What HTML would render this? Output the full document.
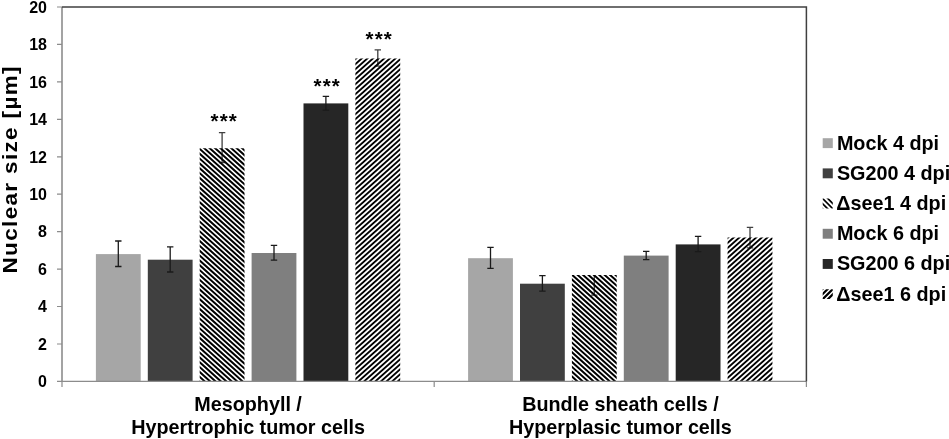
<!DOCTYPE html>
<html><head><meta charset="utf-8"><title>Nuclear size</title>
<style>
html,body{margin:0;padding:0;background:#fff;}
svg{display:block;}
text{font-family:"Liberation Sans",Arial,sans-serif;font-weight:bold;fill:#000;}
</style></head><body>
<svg width="949" height="439" viewBox="0 0 949 439">
<defs>
<pattern id="h4" width="5.4" height="4.85" patternUnits="userSpaceOnUse" x="198.7" y="148">
<path d="M-5.4,-4.85 L10.8,9.7 M-5.4,0 L5.4,9.7 M0,-4.85 L10.8,4.85" stroke="#000" stroke-width="2.0"/>
</pattern>
<pattern id="h6" width="5.62" height="4.9" patternUnits="userSpaceOnUse" x="356.4" y="58.2">
<path d="M-5.62,9.8 L11.24,-4.9 M-5.62,4.9 L5.62,-4.9 M0,9.8 L11.24,0" stroke="#000" stroke-width="1.88"/>
</pattern>
<clipPath id="c3"><rect x="822.7" y="198.6" width="10.1" height="9.9"/></clipPath>
<clipPath id="c6"><rect x="822.7" y="289.2" width="10.1" height="9.9"/></clipPath>
</defs>
<rect width="949" height="439" fill="#fff"/>

<rect x="95.9" y="254.1" width="44.8" height="127.3" fill="#a6a6a6"/>
<path d="M118.3,241 V266.5 M115.1,241 H121.5 M115.1,266.5 H121.5" stroke="#1a1a1a" stroke-width="1.3" fill="none"/>
<rect x="147.8" y="259.7" width="44.8" height="121.7" fill="#404040"/>
<path d="M170.2,246.9 V272 M167.0,246.9 H173.4 M167.0,272 H173.4" stroke="#1a1a1a" stroke-width="1.3" fill="none"/>
<path d="M222.1,132.7 V162.6 M218.9,132.7 H225.3 M218.9,162.6 H225.3" stroke="#404040" stroke-width="1.3" fill="none"/>
<clipPath id="hb1"><rect x="199.7" y="148.3" width="44.8" height="233.1"/></clipPath><path clip-path="url(#hb1)" d="M-70.93,143.49 L199.37,386.25 M-65.53,143.49 L204.77,386.25 M-60.13,143.49 L210.17,386.25 M-54.73,143.49 L215.57,386.25 M-49.33,143.49 L220.97,386.25 M-43.93,143.49 L226.37,386.25 M-38.53,143.49 L231.77,386.25 M-33.13,143.49 L237.17,386.25 M-27.73,143.49 L242.57,386.25 M-22.33,143.49 L247.97,386.25 M-16.93,143.49 L253.37,386.25 M-11.53,143.49 L258.77,386.25 M-6.13,143.49 L264.17,386.25 M-0.73,143.49 L269.57,386.25 M4.67,143.49 L274.97,386.25 M10.07,143.49 L280.37,386.25 M15.47,143.49 L285.77,386.25 M20.87,143.49 L291.17,386.25 M26.27,143.49 L296.57,386.25 M31.67,143.49 L301.97,386.25 M37.07,143.49 L307.37,386.25 M42.47,143.49 L312.77,386.25 M47.87,143.49 L318.17,386.25 M53.27,143.49 L323.57,386.25 M58.67,143.49 L328.97,386.25 M64.07,143.49 L334.37,386.25 M69.47,143.49 L339.77,386.25 M74.87,143.49 L345.17,386.25 M80.27,143.49 L350.57,386.25 M85.67,143.49 L355.97,386.25 M91.07,143.49 L361.37,386.25 M96.47,143.49 L366.77,386.25 M101.87,143.49 L372.17,386.25 M107.27,143.49 L377.57,386.25 M112.67,143.49 L382.97,386.25 M118.07,143.49 L388.37,386.25 M123.47,143.49 L393.77,386.25 M128.87,143.49 L399.17,386.25 M134.27,143.49 L404.57,386.25 M139.67,143.49 L409.97,386.25 M145.07,143.49 L415.37,386.25 M150.47,143.49 L420.77,386.25 M155.87,143.49 L426.17,386.25 M161.27,143.49 L431.57,386.25 M166.67,143.49 L436.97,386.25 M172.07,143.49 L442.37,386.25 M177.47,143.49 L447.77,386.25 M182.87,143.49 L453.17,386.25 M188.27,143.49 L458.57,386.25 M193.67,143.49 L463.97,386.25 M199.07,143.49 L469.37,386.25 M204.47,143.49 L474.77,386.25 M209.87,143.49 L480.17,386.25 M215.27,143.49 L485.57,386.25 M220.67,143.49 L490.97,386.25 M226.07,143.49 L496.37,386.25 M231.47,143.49 L501.77,386.25 M236.87,143.49 L507.17,386.25 M242.27,143.49 L512.57,386.25 M247.67,143.49 L517.97,386.25" stroke="#000" stroke-width="1.98" fill="none"/>
<rect x="251.6" y="253.0" width="44.8" height="128.4" fill="#7f7f7f"/>
<path d="M274.0,245.3 V260.2 M270.8,245.3 H277.2 M270.8,260.2 H277.2" stroke="#1a1a1a" stroke-width="1.3" fill="none"/>
<rect x="303.5" y="103.4" width="44.8" height="278.0" fill="#262626"/>
<path d="M325.9,96.3 V110.2 M322.7,96.3 H329.1 M322.7,110.2 H329.1" stroke="#1a1a1a" stroke-width="1.3" fill="none"/>
<path d="M377.8,49.8 V66.2 M374.6,49.8 H381.0 M374.6,66.2 H381.0" stroke="#404040" stroke-width="1.3" fill="none"/>
<clipPath id="hb2"><rect x="355.4" y="58.5" width="44.8" height="322.9"/></clipPath><path clip-path="url(#hb2)" d="M350.47,53.48 L-23.74,386.40 M356.09,53.48 L-18.12,386.40 M361.71,53.48 L-12.50,386.40 M367.33,53.48 L-6.88,386.40 M372.95,53.48 L-1.26,386.40 M378.57,53.48 L4.36,386.40 M384.19,53.48 L9.98,386.40 M389.81,53.48 L15.60,386.40 M395.43,53.48 L21.22,386.40 M401.05,53.48 L26.84,386.40 M406.67,53.48 L32.46,386.40 M412.29,53.48 L38.08,386.40 M417.91,53.48 L43.70,386.40 M423.53,53.48 L49.32,386.40 M429.15,53.48 L54.94,386.40 M434.77,53.48 L60.56,386.40 M440.39,53.48 L66.18,386.40 M446.01,53.48 L71.80,386.40 M451.63,53.48 L77.42,386.40 M457.25,53.48 L83.04,386.40 M462.87,53.48 L88.66,386.40 M468.49,53.48 L94.28,386.40 M474.11,53.48 L99.90,386.40 M479.73,53.48 L105.52,386.40 M485.35,53.48 L111.14,386.40 M490.97,53.48 L116.76,386.40 M496.59,53.48 L122.38,386.40 M502.21,53.48 L128.00,386.40 M507.83,53.48 L133.62,386.40 M513.45,53.48 L139.24,386.40 M519.07,53.48 L144.86,386.40 M524.69,53.48 L150.48,386.40 M530.31,53.48 L156.10,386.40 M535.93,53.48 L161.72,386.40 M541.55,53.48 L167.34,386.40 M547.17,53.48 L172.96,386.40 M552.79,53.48 L178.58,386.40 M558.41,53.48 L184.20,386.40 M564.03,53.48 L189.82,386.40 M569.65,53.48 L195.44,386.40 M575.27,53.48 L201.06,386.40 M580.89,53.48 L206.68,386.40 M586.51,53.48 L212.30,386.40 M592.13,53.48 L217.92,386.40 M597.75,53.48 L223.54,386.40 M603.37,53.48 L229.16,386.40 M608.99,53.48 L234.78,386.40 M614.61,53.48 L240.40,386.40 M620.23,53.48 L246.02,386.40 M625.85,53.48 L251.64,386.40 M631.47,53.48 L257.26,386.40 M637.09,53.48 L262.88,386.40 M642.71,53.48 L268.50,386.40 M648.33,53.48 L274.12,386.40 M653.95,53.48 L279.74,386.40 M659.57,53.48 L285.36,386.40 M665.19,53.48 L290.98,386.40 M670.81,53.48 L296.60,386.40 M676.43,53.48 L302.22,386.40 M682.05,53.48 L307.84,386.40 M687.67,53.48 L313.46,386.40 M693.29,53.48 L319.08,386.40 M698.91,53.48 L324.70,386.40 M704.53,53.48 L330.32,386.40 M710.15,53.48 L335.94,386.40 M715.77,53.48 L341.56,386.40 M721.39,53.48 L347.18,386.40 M727.01,53.48 L352.80,386.40 M732.63,53.48 L358.42,386.40 M738.25,53.48 L364.04,386.40 M743.87,53.48 L369.66,386.40 M749.49,53.48 L375.28,386.40 M755.11,53.48 L380.90,386.40 M760.73,53.48 L386.52,386.40 M766.35,53.48 L392.14,386.40 M771.97,53.48 L397.76,386.40 M777.59,53.48 L403.38,386.40" stroke="#000" stroke-width="1.87" fill="none"/>
<rect x="468.1" y="258.2" width="44.8" height="123.2" fill="#a6a6a6"/>
<path d="M490.5,247.4 V268.3 M487.3,247.4 H493.7 M487.3,268.3 H493.7" stroke="#1a1a1a" stroke-width="1.3" fill="none"/>
<rect x="520.0" y="283.7" width="44.8" height="97.7" fill="#404040"/>
<path d="M542.4,275.6 V291.1 M539.2,275.6 H545.6 M539.2,291.1 H545.6" stroke="#1a1a1a" stroke-width="1.3" fill="none"/>
<path d="M594.3,274.9 V295.1 M591.1,295.1 H597.5" stroke="#404040" stroke-width="1.3" fill="none"/>
<clipPath id="hb3"><rect x="571.9" y="274.9" width="44.8" height="106.5"/></clipPath><path clip-path="url(#hb3)" d="M437.17,270.03 L566.57,386.25 M442.57,270.03 L571.97,386.25 M447.97,270.03 L577.37,386.25 M453.37,270.03 L582.77,386.25 M458.77,270.03 L588.17,386.25 M464.17,270.03 L593.57,386.25 M469.57,270.03 L598.97,386.25 M474.97,270.03 L604.37,386.25 M480.37,270.03 L609.77,386.25 M485.77,270.03 L615.17,386.25 M491.17,270.03 L620.57,386.25 M496.57,270.03 L625.97,386.25 M501.97,270.03 L631.37,386.25 M507.37,270.03 L636.77,386.25 M512.77,270.03 L642.17,386.25 M518.17,270.03 L647.57,386.25 M523.57,270.03 L652.97,386.25 M528.97,270.03 L658.37,386.25 M534.37,270.03 L663.77,386.25 M539.77,270.03 L669.17,386.25 M545.17,270.03 L674.57,386.25 M550.57,270.03 L679.97,386.25 M555.97,270.03 L685.37,386.25 M561.37,270.03 L690.77,386.25 M566.77,270.03 L696.17,386.25 M572.17,270.03 L701.57,386.25 M577.57,270.03 L706.97,386.25 M582.97,270.03 L712.37,386.25 M588.37,270.03 L717.77,386.25 M593.77,270.03 L723.17,386.25 M599.17,270.03 L728.57,386.25 M604.57,270.03 L733.97,386.25 M609.97,270.03 L739.37,386.25 M615.37,270.03 L744.77,386.25 M620.77,270.03 L750.17,386.25" stroke="#000" stroke-width="1.98" fill="none"/>
<rect x="623.8" y="255.6" width="44.8" height="125.8" fill="#7f7f7f"/>
<path d="M646.2,251.3 V259.7 M643.0,251.3 H649.4 M643.0,259.7 H649.4" stroke="#1a1a1a" stroke-width="1.3" fill="none"/>
<rect x="675.7" y="244.4" width="44.8" height="137.0" fill="#262626"/>
<path d="M698.1,236.4 V251.7 M694.9,236.4 H701.3 M694.9,251.7 H701.3" stroke="#1a1a1a" stroke-width="1.3" fill="none"/>
<path d="M750.0,227.3 V247.8 M746.8,227.3 H753.2 M746.8,247.8 H753.2" stroke="#404040" stroke-width="1.3" fill="none"/>
<clipPath id="hb4"><rect x="727.6" y="237.6" width="44.8" height="143.8"/></clipPath><path clip-path="url(#hb4)" d="M722.34,232.63 L549.50,386.40 M727.96,232.63 L555.12,386.40 M733.58,232.63 L560.74,386.40 M739.20,232.63 L566.36,386.40 M744.82,232.63 L571.98,386.40 M750.44,232.63 L577.60,386.40 M756.06,232.63 L583.22,386.40 M761.68,232.63 L588.84,386.40 M767.30,232.63 L594.46,386.40 M772.92,232.63 L600.08,386.40 M778.54,232.63 L605.70,386.40 M784.16,232.63 L611.32,386.40 M789.78,232.63 L616.94,386.40 M795.40,232.63 L622.56,386.40 M801.02,232.63 L628.18,386.40 M806.64,232.63 L633.80,386.40 M812.26,232.63 L639.42,386.40 M817.88,232.63 L645.04,386.40 M823.50,232.63 L650.66,386.40 M829.12,232.63 L656.28,386.40 M834.74,232.63 L661.90,386.40 M840.36,232.63 L667.52,386.40 M845.98,232.63 L673.14,386.40 M851.60,232.63 L678.76,386.40 M857.22,232.63 L684.38,386.40 M862.84,232.63 L690.00,386.40 M868.46,232.63 L695.62,386.40 M874.08,232.63 L701.24,386.40 M879.70,232.63 L706.86,386.40 M885.32,232.63 L712.48,386.40 M890.94,232.63 L718.10,386.40 M896.56,232.63 L723.72,386.40 M902.18,232.63 L729.34,386.40 M907.80,232.63 L734.96,386.40 M913.42,232.63 L740.58,386.40 M919.04,232.63 L746.20,386.40 M924.66,232.63 L751.82,386.40 M930.28,232.63 L757.44,386.40 M935.90,232.63 L763.06,386.40 M941.52,232.63 L768.68,386.40 M947.14,232.63 L774.30,386.40" stroke="#000" stroke-width="1.87" fill="none"/>
<path d="M62.0,7.0 V381.4" stroke="#8c8c8c" stroke-width="1.6" fill="none"/>
<path d="M62.0,381.4 H806.4" stroke="#8c8c8c" stroke-width="1.3" fill="none"/>
<path d="M57,381.4 H62.0 M57,344.0 H62.0 M57,306.5 H62.0 M57,269.1 H62.0 M57,231.6 H62.0 M57,194.2 H62.0 M57,156.8 H62.0 M57,119.3 H62.0 M57,81.9 H62.0 M57,44.4 H62.0 M57,7.0 H62.0 " stroke="#8c8c8c" stroke-width="1.2" fill="none"/>
<path d="M62.0,381.4 V387 M434.2,381.4 V387 M806.4,381.4 V387" stroke="#8c8c8c" stroke-width="1.2" fill="none"/>
<path d="M62.0,7.0 H806.4 V381.4" stroke="#404040" stroke-width="1.5" fill="none"/>
<text x="47" y="387.2" font-size="16" text-anchor="end">0</text>
<text x="47" y="349.8" font-size="16" text-anchor="end">2</text>
<text x="47" y="312.3" font-size="16" text-anchor="end">4</text>
<text x="47" y="274.9" font-size="16" text-anchor="end">6</text>
<text x="47" y="237.4" font-size="16" text-anchor="end">8</text>
<text x="47" y="200.0" font-size="16" text-anchor="end">10</text>
<text x="47" y="162.6" font-size="16" text-anchor="end">12</text>
<text x="47" y="125.1" font-size="16" text-anchor="end">14</text>
<text x="47" y="87.7" font-size="16" text-anchor="end">16</text>
<text x="47" y="50.2" font-size="16" text-anchor="end">18</text>
<text x="47" y="12.8" font-size="16" text-anchor="end">20</text>
<text transform="translate(17,170.0) rotate(-90) scale(1.09,1)" font-size="20.6" text-anchor="middle" textLength="189.91" lengthAdjust="spacing">Nuclear size [µm]</text>
<text x="248.1" y="411.2" font-size="19.75" text-anchor="middle">Mesophyll /</text>
<text x="248.1" y="433.8" font-size="19.75" text-anchor="middle">Hypertrophic tumor cells</text>
<text x="620.4" y="411.2" font-size="19.75" text-anchor="middle">Bundle sheath cells /</text>
<text x="620.4" y="433.8" font-size="19.75" text-anchor="middle">Hyperplasic tumor cells</text>
<text x="224.3" y="128.2" font-size="20.5" letter-spacing="1.18" text-anchor="middle">***</text>
<text x="327.25" y="92.9" font-size="20.5" letter-spacing="1.18" text-anchor="middle">***</text>
<text x="379.3" y="45.9" font-size="20.5" letter-spacing="1.18" text-anchor="middle">***</text>
<rect x="822.7" y="138.2" width="10.1" height="9.9" fill="#a6a6a6"/>
<text x="836.9" y="149.5" font-size="19.8">Mock 4 dpi</text>
<rect x="822.7" y="168.4" width="10.1" height="9.9" fill="#404040"/>
<text x="836.9" y="179.7" font-size="19.8">SG200 4 dpi</text>
<g clip-path="url(#c3)" stroke="#000" stroke-width="1.7" fill="none"><path d="M820.7,196.6 L834.8,210.7 M825.9,196.6 L840,210.7 M815.5,196.6 L829.6,210.7 M810.3,196.6 L824.4,210.7"/></g>
<text x="836.3" y="209.9" font-size="19.8">Δsee1 4 dpi</text>
<rect x="822.7" y="228.8" width="10.1" height="9.9" fill="#7f7f7f"/>
<text x="836.9" y="240.1" font-size="19.8">Mock 6 dpi</text>
<rect x="822.7" y="259.0" width="10.1" height="9.9" fill="#262626"/>
<text x="836.9" y="270.3" font-size="19.8">SG200 6 dpi</text>
<g clip-path="url(#c6)" stroke="#000" stroke-width="2.2" fill="none"><path d="M820.7,301.2 L834.8,287.1 M825.9,301.2 L840,287.1 M815.5,301.2 L829.6,287.1 M810.3,301.2 L824.4,287.1"/></g>
<text x="836.3" y="300.5" font-size="19.8">Δsee1 6 dpi</text>
</svg>
</body></html>
